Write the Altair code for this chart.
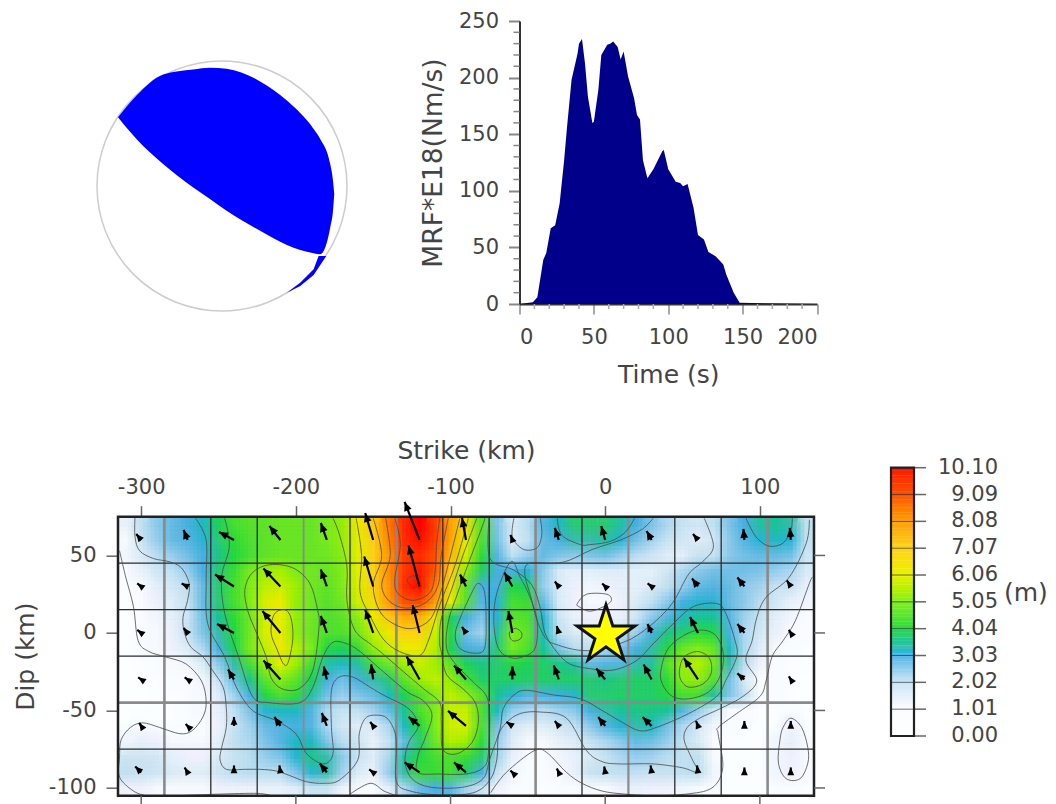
import math
import altair as alt
import pandas as pd

FONT = "DejaVu Sans"
TXT = "#444444"
LBL = 21
TTL = 25
HY = "replace(datum.label, '\u2212', '-')"
alt.data_transformers.disable_max_rows()

# ---------- moment-rate function ----------
mrf_t = [0,9,12,16,18,21,24,27,30,32,35,39,40,42,44,46,49,50,53,55,59,61,63,66,68,70,73,77,79,81,83,86,90,96,97,100,105,108,110,113,117,120,124,127,132,137,139,144,148,200]
mrf_v = [0,1.5,6,39,45,67,69.5,89,127,157,198,221,230,234,213,183,160,161,189,220,229,230,232,227,216,223,201,182,167,163,127,111,119,135,136,119,108,107,104,106,85,61,57,46,42,35,26,10,1,0]

# ---------- beach ball ----------
ball_x = [-.832,-.684,-.471,-.230,-.096,.037,.305,.519,.733,.786,.866,.888,.898]
ball_top = [.551,.725,.893,.933,.947,.939,.837,.684,.457,.377,.176,.043,-.064]
ball_bot = [.551,.377,.176,-.011,-.104,-.198,-.358,-.471,-.537,-.545,-.332,-.198,-.064]
sliver_x = [.519,.626,.733,.773,.834]
sliver_top = [-.853,-.773,-.666,-.559,-.559]
sliver_bot = [-.853,-.80,-.711,-.652,-.559]

# ---------- slip field, 10 km cells ----------
field_x = list(range(-310, 131, 10))
field_y = list(range(70, -101, -10))
field = [
[1.3,2.0,2.5,2.8,3.0,3.2,3.9,4.3,4.5,4.6,4.7,4.7,4.7,4.9,5.2, 6.2,7.2,8.5,9.7,10.1,9.3,7.9,6.5,4.5,2.6,1.6,2.1,2.9,3.2,3.7, 3.7,3.7,3.4,3.0,2.6,2.2,1.9,1.7,2.0,2.6,3.0,3.4,3.5,3.3,2.0],
[1.0,1.9,2.4,2.8,2.9,3.1,3.7,4.1,4.4,4.6,4.7,4.7,4.7,4.9,5.2, 6.0,7.1,8.3,9.6,10,9.3,7.8,6.2,4.4,2.7,1.5,2.0,2.8,3.0,3.3, 3.3,3.4,3.1,2.7,2.3,1.9,1.7,1.5,1.7,2.5,2.9,3.1,3.2,3.1,2.0],
[1.1,1.6,2.1,2.4,2.7,3.0,3.6,4.0,4.3,4.6,4.7,4.7,4.7,4.8,5.1, 6.0,7.0,8.0,9.3,9.7,9.0,7.5,5.8,4.1,2.9,2.0,2.4,2.8,2.6,2.5, 2.6,2.7,2.4,2.1,1.8,1.5,1.4,1.9,1.9,2.5,2.7,2.8,2.8,2.7,1.8],
[0.7,1.3,1.7,2.0,2.4,3.0,3.7,4.2,4.9,5.3,5.4,5.0,4.8,4.7,5.0, 6.0,6.9,8.2,9.4,9.9,8.9,7.1,5.2,3.8,3.0,3.0,3.1,2.5,1.6,1.4, 1.4,1.5,1.5,1.4,1.4,1.7,2.2,2.5,2.7,2.7,2.7,2.6,2.4,2.2,1.6],
[0.5,0.9,1.4,1.7,2.0,2.8,3.7,4.3,5.0,5.6,5.7,5.3,4.8,4.6,5.0, 5.9,7.0,8.1,9.6,10,8.4,6.5,4.6,3.0,3.0,4.0,3.8,2.4,1.6,1.2, 1.1,1.2,1.3,1.4,1.6,2.0,2.4,2.8,2.9,2.8,2.5,2.3,1.9,1.9,1.3],
[0.3,0.7,1.2,1.5,1.9,2.8,3.7,4.3,5.0,5.9,6.1,5.2,4.8,4.5,4.8, 5.8,6.7,8.0,9.0,9.1,8.0,6.0,4.5,2.9,3.1,4.3,4.2,2.8,1.6,1.2, 0.9,0.9,1.2,1.6,2.0,2.5,3.0,3.1,3.1,2.8,2.5,2.1,1.7,1.3,1.1],
[0.2,0.6,1.1,1.4,1.8,2.7,3.5,4.1,4.8,5.8,6.1,5.2,4.8,4.4,4.6, 5.1,6.2,7.2,7.7,7.6,6.2,3.9,3.0,2.6,3.1,4.5,4.4,3.1,1.8,1.3, 1.2,1.2,1.3,1.8,2.5,2.9,3.2,3.5,3.5,2.9,2.3,1.9,1.4,1.1,0.8],
[0.2,0.6,1.0,1.3,1.9,2.6,3.3,4.0,4.8,5.9,6.2,5.2,4.7,4.4,4.4, 4.8,5.6,6.2,6.9,6.9,5.7,4.0,2.7,2.3,3.4,5.0,4.6,3.2,2.0,1.6, 1.5,1.5,1.8,2.4,3.0,3.6,3.8,4.1,4.0,3.0,2.2,1.7,1.3,0.9,0.6],
[0.2,0.7,1.0,1.2,1.5,2.2,3.0,3.9,4.9,5.6,6.2,5.5,5.0,4.0,3.9, 4.15,5.2,5.7,6.1,6.2,5.5,3.9,3.0,2.9,3.7,4.9,4.4,3.5,2.6,2.1, 2.0,2.2,2.6,3.0,3.3,4.0,4.7,5.05,4.7,3.2,2.2,1.5,1.0,0.7,0.4],
[0.2,0.4,0.7,0.9,1.1,1.6,2.5,3.3,4.3,5.3,6.0,5.3,4.3,3.4,3.2, 3.4,4.3,4.8,5.3,5.7,5.3,4.6,3.9,3.6,3.7,4.0,3.9,3.8,3.6,3.4, 2.8,2.9,2.9,3.3,3.4,4.5,5.2,5.5,4.9,3.3,2.1,1.2,0.8,0.5,0.3],
[0.1,0.2,0.4,0.6,0.8,1.1,1.9,2.8,3.6,4.6,5.1,4.6,3.9,3.0,2.7, 3.0,3.3,3.7,4.6,5.3,5.6,5.2,4.3,3.8,3.8,3.8,3.8,3.8,3.8,3.8, 3.7,3.6,3.7,3.8,3.8,4.1,5.1,5.2,4.5,2.7,1.6,0.8,0.6,0.4,0.2],
[0.1,0.2,0.3,0.5,0.7,0.95,1.5,2.3,3.0,4.0,4.4,4.1,3.4,2.7,2.4, 2.6,2.8,3.2,3.9,4.4,5.0,5.6,5.2,4.5,3.5,3.1,2.9,3.0,3.05,3.1, 3.7,3.75,3.8,3.8,3.8,4.0,4.3,4.3,3.4,2.6,2.0,1.0,0.6,0.3,0.2],
[0.2,0.3,0.4,0.5,0.7,0.9,1.3,2.0,2.6,3.1,3.2,3.2,2.9,2.2,1.9, 2.0,2.3,2.8,3.5,4.4,5.0,5.7,5.7,4.4,3.2,2.4,2.2,2.1,2.3,2.5, 3.0,3.3,3.5,3.6,3.6,3.5,2.9,2.4,1.7,1.0,0.7,0.5,0.5,0.6,0.4],
[0.7,0.9,0.8,0.7,0.8,0.8,1.2,1.9,2.3,2.8,2.9,3.0,2.9,2.2,1.7, 1.5,1.6,2.2,3.2,4.0,5.0,5.8,5.8,4.4,2.7,1.7,1.5,1.5,1.7,2.0, 2.5,2.9,3.1,3.3,3.2,2.7,2.2,1.7,1.1,0.7,0.5,0.4,0.8,1.2,0.8],
[1.1,1.3,1.2,0.9,0.9,1.0,1.4,2.0,2.2,2.6,2.9,3.2,3.2,2.6,2.1, 1.8,1.3,1.9,2.8,3.7,4.8,5.5,5.3,4.1,2.4,1.5,1.0,1.0,1.3,1.5, 1.9,2.2,2.5,2.8,2.7,2.4,2.0,1.6,0.9,0.5,0.4,0.4,1.1,1.3,1.0],
[1.8,1.8,1.7,1.4,1.2,1.2,1.6,1.9,2.1,2.4,2.6,3.1,3.6,3.3,2.5, 1.9,1.5,2.2,3.4,4.0,4.3,4.4,4.2,3.7,2.3,1.3,0.8,0.8,1.1,1.3, 1.6,1.9,2.2,2.4,2.3,2.1,2.0,2.0,1.0,0.4,0.3,0.3,1.1,1.2,1.0],
[2.0,1.9,1.8,1.6,1.5,1.5,1.8,2.0,2.1,2.1,2.1,2.6,3.1,3.3,2.3, 1.6,1.3,2.4,3.3,4.2,4.2,4.3,3.8,3.0,1.9,1.1,0.8,0.8,1.0,1.3, 1.9,2.0,2.0,2.0,1.9,1.9,2.0,2.1,1.1,0.4,0.3,0.3,1.1,1.2,0.9],
[1.2,1.2,0.9,0.9,0.9,1.0,1.2,1.2,1.2,1.3,1.3,1.5,1.9,1.9,1.2, 0.9,0.8,1.4,2.2,2.8,3.0,2.9,2.3,1.9,1.2,0.8,0.6,0.5,0.6,0.7, 0.9,1.0,1.2,1.3,1.2,1.2,1.1,1.0,0.6,0.3,0.3,0.3,0.6,0.6,0.5],
]
assert len(field) == 18 and all(len(r) == 45 for r in field)

color_domain = [0,1.01,2.02,3.03,3.3,3.7,4.04,5.05,6.06,7.07,8.08,9.09,10.1]
color_range = ["#ffffff","#fafcfe","#c4e4f6","#45b3e2","#3cbfae","#30cd78","#2bdc3e","#86f01c","#ecf000","#ffd21c","#ff9a10","#ff4a00","#ff0000"]
slip_color = alt.Scale(domain=color_domain, range=color_range, clamp=True)

# ---------- contours (km) ----------
open_contours = {
 "a202":[(-304,75),(-304,62),(-301,53),(-292,48),(-282,46),(-274,42),(-269,32),(-270,21),(-273,10),(-272,0),(-268,-9),(-260,-15.5),(-254,-24),(-247,-35),(-245,-48),(-245,-61),(-248,-74),(-249,-82),(-245,-88),(-234,-88),(-223,-88),(-213,-89),(-204,-92),(-193,-96),(-182,-97),(-172,-95),(-160,-82),(-159,-65),(-155,-55),(-148,-53),(-141,-55),(-136,-64),(-135,-75),(-135,-96),(-126,-102),(-107,-104.5),(-85,-103),(-74,-94),(-70,-81),(-69,-66),(-64,-58),(-55,-52),(-42,-51),(-25,-55),(-12,-76),(-2,-83),(9,-84.5),(31,-84.5),(50,-87),(60,-90),(56,-81),(51,-69),(53,-61),(61,-55),(74,-49),(89,-41),(98,-31),(91,-18),(95,-5),(98,10),(104,23),(119,36),(130,58),(132,73)],
 "b101":[(-314,53),(-310,36),(-305,17),(-302,-5),(-295,-12),(-284,-15.5),(-271,-20),(-261,-31),(-258,-44),(-260,-54),(-267,-63),(-275,-65),(-288,-61),(-299,-58),(-307,-61),(-313,-69),(-314,-80),(-314,-93),(-305,-102),(-297,-105)],
 "c101":[(-276,-105),(-250,-104),(-225,-103.5),(-216,-105)],
 "d101":[(-165,-104),(-152,-97),(-143,-102),(-135,-105)],
 "e101":[(-74,-103),(-64,-90),(-46,-76),(-38,-77),(-25,-90),(-15,-97),(-2,-102),(13,-104),(31,-105),(52,-104),(69,-100),(76,-87),(73,-65),(73,-61),(85,-52),(100,-41),(104,-31),(108,-15),(115,-5),(123,8),(132,32),(134,36)],
 "f202":[(31,74),(24,67),(10,60),(-8,54),(-23,47),(-33,45),(-49,45),(-52,38),(-48,23),(-44,8),(-38,-4),(-30,-8),(-18,-11),(-5,-11),(9,-7),(20,-2),(33,8),(44,20),(54,38),(63,46),(70,56),(64,74)],
 "g303":[(-265,74),(-258,60),(-258,34),(-257,6),(-246,-15.5),(-238.5,-35),(-228,-50),(-213,-56.5),(-200,-65),(-193,-78),(-182,-84.5),(-176,-78),(-177,-61),(-177,-37),(-172,-28.5),(-163,-28.5),(-152,-35),(-143.5,-40),(-127,-49),(-121,-60),(-127,-70.5),(-129.5,-83),(-125,-94),(-113,-99.5),(-92,-99.5),(-79,-94),(-74.5,-81),(-68,-62),(-66,-49),(-59,-40),(-51,-37),(-33.5,-40),(-16,-42.5),(-2,-50),(9,-56.5),(22,-63),(33,-61),(54,-52),(72,-41),(78,-30.6),(85,-15.5),(84,-5),(78,12.5),(72,19),(57,17),(44,6),(31,-7),(20,-18),(5,-24),(-10,-23),(-23,-20),(-31.5,-12),(-39,0),(-42,16),(-47.5,31),(-59,40.5),(-74.5,48),(-75,74)],
 "h303":[(-31,74),(-28,63),(-16,57),(-10,57),(3,59),(13,65),(19,74)],
 "i303":[(91,74),(97.5,62),(106,56),(115,58),(120,66),(121,74)],
 "j404":[(-246,74),(-243,56),(-248,36),(-246,12.5),(-237,-15.5),(-228,-41),(-217,-45),(-197.5,-45),(-189,-35),(-182.5,-15.5),(-176,-6),(-167,-7),(-158.5,-12),(-143.5,-25),(-128,-38),(-118,-43.5),(-112,-53),(-116.5,-68),(-121,-79),(-121,-90),(-107,-91),(-90,-91),(-79,-87),(-75.5,-77),(-75.5,-44.5),(-85,-32),(-96,-21),(-102.5,-10),(-101.5,7),(-96,24),(-88,46),(-79,70),(-78,74)],
 "k505":[(-176,74),(-172,64),(-167,43),(-167,21),(-162,2),(-152,-7),(-145.5,-12),(-130.5,-25),(-117.5,-36),(-107,-45),(-106,-57.5),(-105,-75),(-96,-78),(-86,-70.5),(-82,-57.5),(-84,-45),(-92,-36),(-102.5,-27),(-106,-12),(-107,-6),(-106,9),(-99,29),(-92,50),(-83,74)],
 "l606":[(-161,74),(-157.5,50),(-158.5,26.5),(-152,11),(-143.5,-4),(-133,-12),(-120,-14.5),(-114,-4),(-107,18),(-97,44),(-88.5,74)],
 "m707":[(-150,74),(-144.5,50),(-150,31),(-145.5,13.6),(-135,5),(-124,3),(-113,9),(-107,24),(-101,46),(-94,74)],
 "n808":[(-142,74),(-139,50),(-144.5,31),(-139,20),(-128,16),(-115.5,20),(-108,31),(-106,50),(-101.5,74)],
 "o909":[(-136,74),(-132.5,57),(-136,35),(-134,25.5),(-124,21),(-113,26.5),(-110,39.5),(-109,57),(-107,74)],
 "p202":[(-59,74),(-60,62),(-53,54),(-44,55),(-41,64),(-42,74)],
}
closed_contours = {
 "q101":[(-18,19),(-12,25),(1,25),(4,21),(-1,17),(-10,14),(-17,17)],
 "r101":[(113,-69),(115,-61),(120,-55),(127,-61),(131,-74),(131,-84),(126,-94),(117,-94),(112,-84)],
 "s303":[(-97,-1.5),(-94,9),(-86,26.5),(-82,32),(-78,26.5),(-77,9),(-78,-10),(-85,-13),(-94,-10)],
 "t404":[(36,-24),(41.5,-9),(56.5,1),(69.5,0),(76,-11),(75,-26),(67,-38),(54,-42.5),(43.5,-41),(37,-33)],
 "u505":[(48,-24),(51,-15.5),(60,-12),(67.5,-16.5),(68.5,-26),(63,-33),(54,-35),(49,-30.5)],
 "v505":[(-233,28),(-228,39),(-217,44),(-202,42),(-191,32),(-186,15),(-185,4),(-189,-24),(-198,-36),(-209,-36),(-216,-29),(-219,-16),(-225,-1),(-231,14)],
 "w606":[(-207,15),(-214,12),(-216,0),(-212,-11),(-208,-20),(-205,-19),(-202,-4),(-203,9)],
 "x404":[(-61,46),(-70,26),(-72,7),(-69,-10),(-61,-16),(-52,-15),(-45,-9),(-44,8),(-49,24),(-55,36)],
 "y505":[(-62,0),(-58,3),(-54,0),(-55,-4),(-60,-5)],
 "z1010":[(-128,34),(-124,37),(-121,33),(-124,29)],
}

# ---------- grid and arrows ----------
grid_x = [-285,-255,-225,-195,-165,-135,-105,-75,-45,-15,15,45,75,105]
grid_x_w = [2.6,1.3,1.3,1.8,1.3,2.6,1.3,1.3,2.6,1.3,2.2,1.3,1.3,2.6]
grid_y = [45,15,-15,-45,-75]
grid_y_w = [1.3,1.3,1.3,2.8,1.3]
arrow_x = list(range(-300,121,30))
arrow_y = [60,30,0,-30,-60,-90]
# slip-vector components, east and up
arrow_u = [
[-5,-4,-15,-11,-6,-8,-15,-4,-2,-4,-4,-5,-5,-1,-1],
[-4,-6,-19,-17,-6,-9,-11,-6,-8,-4,-3,-4,-6,-7,-4],
[-4,-4,-17,-18,-6,-8,-7,-4,-4,-2,-3,-4,-8,-7,-2],
[-3,-3,-6,-17,-3,-2,-13,-12,0,-5,-9,-8,-14,-7,-2],
[-2,-2,0,-6,-5,-3,-11,-18,-6,-4,-7,-9,-2,0,0],
[-6,-3,0,-1,-7,-4,-15,-12,-2,-2,-1,-1,-1,0,0],
]
arrow_v = [
[6,10,8,14,17,27,38,22,5,12,14,9,6,11,12],
[3,3,12,18,17,30,41,12,14,5,3,3,8,9,6],
[3,5,9,22,17,23,28,6,22,7,8,9,16,9,3],
[2,2,10,19,13,15,23,14,13,14,11,15,21,6,3],
[3,2,9,9,13,4,9,15,4,5,9,9,5,5,5],
[6,5,7,7,9,3,10,10,2,4,6,7,7,5,5],
]
ARROW_SCALE = 0.645

# ---------- color bar ----------
bar_levels = [0,1.01,2.02,3.03,4.04,5.05,6.06,7.07,8.08,9.09,10.1]
bar_labels = ["0.00","1.01","2.02","3.03","4.04","5.05","6.06","7.07","8.08","9.09","10.10"]
bar_steps = [i/10 for i in range(0,101)]

# ======== panels ========
ball_df = pd.DataFrame({"x":ball_x,"t":ball_top,"b":ball_bot})
sliver_df = pd.DataFrame({"x":sliver_x,"t":sliver_top,"b":sliver_bot})
X_B = alt.Scale(domain=[-0.832,1.0])
Y_B = alt.Scale(domain=[-1.0,1.32])
ring = alt.Chart(pd.DataFrame({"x":[0],"y":[0]})).mark_point(size=62500,filled=False,stroke="#b8b8b8",strokeWidth=1.5,clip=False).encode(
    x=alt.X("x:Q",scale=X_B,axis=None),y=alt.Y("y:Q",scale=Y_B,axis=None))
lobe = alt.Chart(ball_df).mark_area(color="#0000ff",interpolate="monotone",clip=False).encode(
    x=alt.X("x:Q",scale=X_B,axis=None),y=alt.Y("t:Q",scale=Y_B,axis=None),y2="b:Q")
sliver = alt.Chart(sliver_df).mark_area(color="#0000ff",clip=False).encode(
    x=alt.X("x:Q",scale=X_B,axis=None),y=alt.Y("t:Q",scale=Y_B,axis=None),y2="b:Q")
ball = alt.layer(ring,lobe,sliver).properties(width=229,height=290)

# MRF
MW, MH = 297.5, 283
X_M = alt.Scale(domain=[0,200],nice=False)
Y_M = alt.Scale(domain=[0,250],nice=False)
mrf_df = pd.DataFrame({"t":mrf_t,"v":mrf_v})
mrf_area = alt.Chart(mrf_df).mark_area(color="#00008b").encode(
    x=alt.X("t:Q",scale=X_M,axis=alt.Axis(values=[0,50,100,150,200],title="Time (s)",titleFont=FONT,titleFontSize=TTL,titleFontWeight="normal",titleColor=TXT,
        labelFont=FONT,labelFontSize=LBL,labelColor=TXT,tickColor="#aaaaaa",tickSize=10,tickWidth=2,domainColor="#333333",domainWidth=2,grid=False,labelPadding=12,titlePadding=15)),
    y=alt.Y("v:Q",scale=Y_M,axis=alt.Axis(values=[0,50,100,150,200,250],title="MRF*E18(Nm/s)",titleFont=FONT,titleFontSize=26.5,titleFontWeight="normal",titleColor=TXT,
        labelFont=FONT,labelFontSize=LBL,labelColor=TXT,tickColor="#888888",tickSize=11,tickWidth=2,domainColor="#333333",domainWidth=2,grid=False,labelPadding=10,titlePadding=11)))
minor_x = alt.Chart(pd.DataFrame({"t":[v for v in range(10,200,10) if v%50]})).mark_rule(color="#aaaaaa",strokeWidth=1.5,clip=False).encode(
    x=alt.X("t:Q",scale=X_M),y=alt.value(MH),y2=alt.value(MH+5))
minor_y = alt.Chart(pd.DataFrame({"v":[v for v in range(10,250,10) if v%50]})).mark_rule(color="#888888",strokeWidth=1.5,clip=False).encode(
    y=alt.Y("v:Q",scale=Y_M),x=alt.value(-6),x2=alt.value(0))
mrf = alt.layer(mrf_area,minor_x,minor_y).properties(width=MW,height=MH)

# slip map
SW, SH = 696, 279
X_S = alt.Scale(domain=[-315,135],nice=False)
Y_S = alt.Scale(domain=[-105,75],nice=False)
AX_X = alt.Axis(orient="top",values=[-300,-200,-100,0,100],labelExpr=HY,title="Strike (km)",titleFont=FONT,titleFontSize=TTL,titleFontWeight="normal",titleColor=TXT,
        labelFont=FONT,labelFontSize=LBL,labelColor=TXT,tickColor="#666666",tickSize=11,tickWidth=1.5,domain=False,grid=False,labelPadding=8,titlePadding=13)
AX_Y = alt.Axis(values=[-100,-50,0,50],labelExpr=HY,title="Dip (km)",titleFont=FONT,titleFontSize=TTL,titleFontWeight="normal",titleColor=TXT,
        labelFont=FONT,labelFontSize=LBL,labelColor=TXT,tickColor="#666666",tickSize=12,tickWidth=1.5,domain=False,grid=False,labelPadding=10,titlePadding=9.5)
def SX(f): return alt.X(f,scale=X_S,axis=AX_X)
def SY(f): return alt.Y(f,scale=Y_S,axis=AX_Y)

rows = []
for j,y in enumerate(field_y):
    for i,x in enumerate(field_x):
        rows.append({"x":x,"y":y,"s":field[j][i]})
f_df = pd.DataFrame(rows)

def cells(dx,dy,opacity):
    return alt.Chart(f_df).transform_calculate(
        x0=f"datum.x-5+({dx})",x1=f"datum.x+5+({dx})",y0=f"datum.y-5+({dy})",y1=f"datum.y+5+({dy})"
    ).mark_rect(clip=True,opacity=opacity,strokeWidth=0).encode(
        x=SX("x0:Q"),x2="x1:Q",y=SY("y0:Q"),y2="y1:Q",
        color=alt.Color("s:Q",scale=slip_color,legend=None))

shifts = [-3.75,-1.25,1.25,3.75]
cell_layers = [cells(0,0,1)]
n = 0
for dy in shifts:
    for dx in shifts:
        n += 1
        cell_layers.append(cells(dx,dy,1/n))

gx = alt.Chart(pd.DataFrame({"x":grid_x,"w":grid_x_w,"c":["#8a8a8a" if w>=1.8 else "#2a2a2a" for w in grid_x_w]})).mark_rule().encode(
    x=SX("x:Q"),strokeWidth=alt.StrokeWidth("w:Q",scale=None),color=alt.Color("c:N",scale=None))
gy = alt.Chart(pd.DataFrame({"y":grid_y,"w":grid_y_w,"c":["#8a8a8a" if w>=1.8 else "#2a2a2a" for w in grid_y_w]})).mark_rule().encode(
    y=SY("y:Q"),strokeWidth=alt.StrokeWidth("w:Q",scale=None),color=alt.Color("c:N",scale=None))

def contour_df(d):
    out=[]
    for k,pts in d.items():
        for i,(x,y) in enumerate(pts):
            out.append({"id":k,"i":i,"x":x,"y":y})
    return pd.DataFrame(out)

c_open = alt.Chart(contour_df(open_contours)).mark_line(color="#4a4a4a",strokeWidth=1,opacity=0.8,interpolate="cardinal",clip=True).encode(
    x=SX("x:Q"),y=SY("y:Q"),detail="id:N",order="i:Q")
c_closed = alt.Chart(contour_df(closed_contours)).mark_line(color="#4a4a4a",strokeWidth=1,opacity=0.8,interpolate="cardinal-closed",clip=True).encode(
    x=SX("x:Q"),y=SY("y:Q"),detail="id:N",order="i:Q")

frame = alt.Chart(pd.DataFrame({"a":[-315],"b":[135],"c":[-105],"d":[75]})).mark_rect(filled=False,stroke="#222222",strokeWidth=2.5).encode(
    x=SX("a:Q"),x2="b:Q",y=SY("c:Q"),y2="d:Q")

ticks_b = alt.Chart(pd.DataFrame({"x":[-300,-200,-100,0,100]})).mark_rule(color="#666666",strokeWidth=1.5,clip=False).encode(
    x=SX("x:Q"),y=alt.value(SH),y2=alt.value(SH+9))
ticks_r = alt.Chart(pd.DataFrame({"y":[-100,-50,0,50]})).mark_rule(color="#666666",strokeWidth=1.5,clip=False).encode(
    y=SY("y:Q"),x=alt.value(SW),x2=alt.value(SW+11))

ar=[]
for j,y in enumerate(arrow_y):
    for i,x in enumerate(arrow_x):
        a=arrow_u[j][i]; b=arrow_v[j][i]
        u=a*ARROW_SCALE; v=b*ARROW_SCALE
        ar.append({"x":x,"y":y,"x2":x+u,"y2":y+v,"ang":(math.degrees(math.atan2(u,v)))%360,"sz":125 if math.hypot(a,b)>=10 else 95})
ar_df=pd.DataFrame(ar)
shaft = alt.Chart(ar_df).mark_rule(color="#000000",strokeWidth=2.2,clip=False).encode(
    x=SX("x:Q"),x2="x2:Q",y=SY("y:Q"),y2="y2:Q")
HEAD="M0,0 L0.7,1.6 L-0.7,1.6 Z"
head = alt.Chart(ar_df).mark_point(shape=HEAD,filled=True,color="#000000",opacity=1,clip=False).encode(
    x=SX("x2:Q"),y=SY("y2:Q"),angle=alt.Angle("ang:Q",scale=None),size=alt.Size("sz:Q",scale=None))
STAR="M0,-1 L0.2245,-0.309 L0.951,-0.309 L0.363,0.118 L0.588,0.809 L0,0.382 L-0.588,0.809 L-0.363,0.118 L-0.951,-0.309 L-0.2245,-0.309 Z"
star = alt.Chart(pd.DataFrame({"x":[0.5],"y":[-1.5]})).mark_point(shape=STAR,size=3700,filled=True,fill="#ffff00",stroke="#111111",strokeWidth=3,opacity=1).encode(
    x=SX("x:Q"),y=SY("y:Q"))

slip = alt.layer(*cell_layers,gx,gy,c_open,c_closed,frame,ticks_b,ticks_r,shaft,head,star).properties(width=SW,height=SH)

# color bar
CW, CH = 23, 219.3
Y_C = alt.Scale(domain=[0,219.3*10.1/268.3],nice=False)
bdf = pd.DataFrame({"a":bar_steps,"b":[v+0.11 for v in bar_steps]})
ramp = alt.Chart(bdf).mark_rect(clip=False,strokeWidth=0).encode(
    x=alt.value(0),x2=alt.value(CW),y=alt.Y("a:Q",scale=Y_C,axis=None),y2="b:Q",
    color=alt.Color("a:Q",scale=slip_color,legend=None))
bar_df = pd.DataFrame({"a":bar_levels,"t":bar_labels})
blines = alt.Chart(bar_df).mark_rule(color="#333333",strokeWidth=1,opacity=0.7,clip=False).encode(
    y=alt.Y("a:Q",scale=Y_C,axis=None),x=alt.value(0),x2=alt.value(CW))
bticks = alt.Chart(bar_df).mark_rule(color="#666666",strokeWidth=1.5,clip=False).encode(
    y=alt.Y("a:Q",scale=Y_C,axis=None),x=alt.value(CW),x2=alt.value(CW+12))
blabels = alt.Chart(bar_df).mark_text(align="right",baseline="middle",font=FONT,fontSize=LBL,color=TXT,clip=False).encode(
    y=alt.Y("a:Q",scale=Y_C,axis=None),x=alt.value(107),text="t:N")
bunit = alt.Chart(pd.DataFrame({"t":["(m)"]})).mark_text(align="left",baseline="middle",font=FONT,fontSize=TTL,color=TXT,clip=False).encode(
    x=alt.value(113),y=alt.value(76),text="t:N")
bframe = alt.Chart(pd.DataFrame({"a":[0],"b":[10.1]})).mark_rect(filled=False,stroke="#222222",strokeWidth=2.2,clip=False).encode(
    x=alt.value(0),x2=alt.value(CW),y=alt.Y("a:Q",scale=Y_C,axis=None),y2="b:Q")
cbar = alt.layer(ramp,blines,bticks,blabels,bunit,bframe).properties(width=CW,height=CH)

top = alt.hconcat(ball,mrf,spacing=172.5,bounds="flush").resolve_scale(color="independent")
bottom = alt.hconcat(slip,cbar,spacing=77,bounds="flush").resolve_scale(color="independent")
chart = alt.vconcat(top,bottom,spacing=495.7,bounds="flush").resolve_scale(color="independent").properties(
    padding={"left":5,"top":2,"right":0,"bottom":0},background="#ffffff").configure_view(strokeWidth=0)
chart.save("out.html", embed_options={"renderer": "svg", "actions": False})
